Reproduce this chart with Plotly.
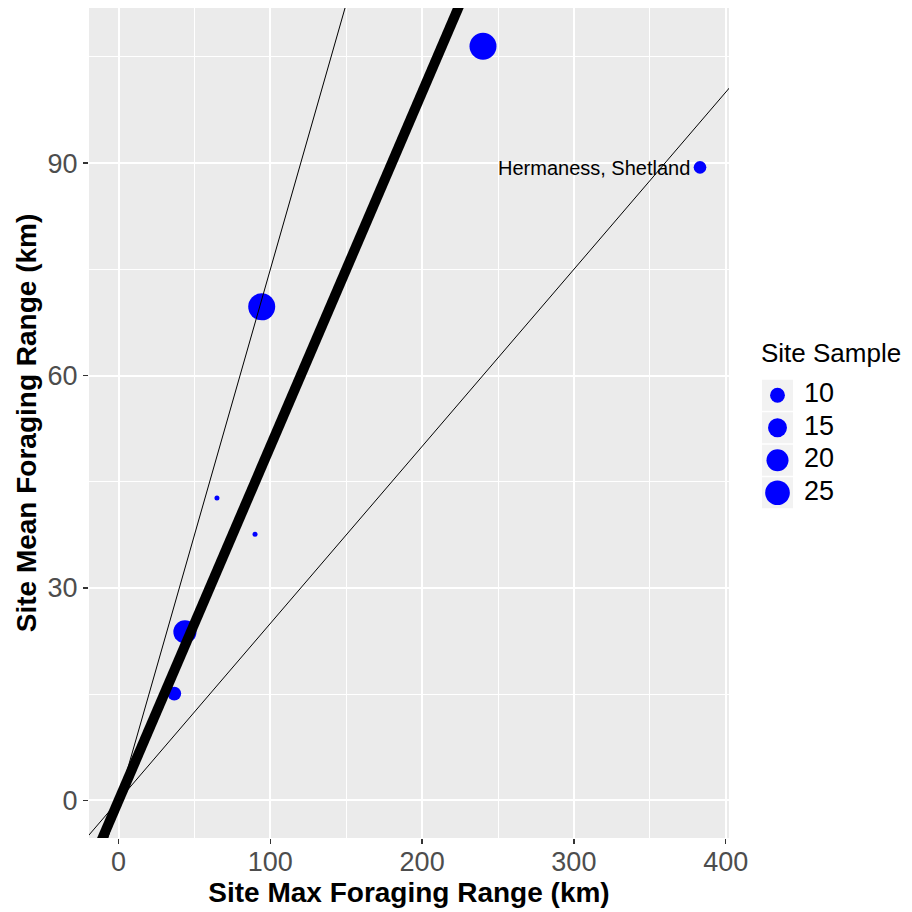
import numpy as np
import plotly.graph_objects as go

# ---- data ----
max_range = [240.1, 94.3, 383.1, 64.8, 89.9, 43.7, 36.7]
mean_range = [106.5, 69.7, 89.4, 42.7, 37.6, 23.8, 15.1]
site_sample = [30, 30, 8, 5, 5, 22, 9]
site_label = ["", "", "Hermaness, Shetland", "", "", "", ""]
ratio_slopes = [0.25, 0.5, 0.75]
ratio_widths = [1, 10, 1]
legend_values = [10, 15, 20, 25]
x_ticks = [0, 100, 200, 300, 400]
y_ticks = [0, 30, 60, 90]

FONT = "Liberation Sans, Arial, sans-serif"
BLUE = "#0000FF"

# size scale (area-like, like ggplot scale_size)
S_MIN, S_MAX = min(site_sample), max(site_sample)
D_MIN, D_MAX = 5.0, 27.0


def diam(v):
    v = np.asarray(v, dtype=float)
    return D_MIN + (D_MAX - D_MIN) * np.sqrt((v - S_MIN) / (S_MAX - S_MIN))


# layout geometry (pixels)
W = H = 912
ML, MT, MB = 89, 8, 74
PLOT_R = 729
LEG_L = 755
pw = W - ML
x_dom = [0, (PLOT_R - ML) / pw]
x2_dom = [(LEG_L - ML) / pw, 1]

XR = [-19.5, 402.2]
YR = [-5.3, 111.9]

fig = go.Figure()

# points
fig.add_trace(go.Scatter(
    x=max_range, y=mean_range, mode="markers",
    marker=dict(size=diam(site_sample), color=BLUE, opacity=1, line=dict(width=0)),
    showlegend=False, hoverinfo="skip", xaxis="x", yaxis="y"))

# reference ratio lines
xl = np.array([XR[0] - 20, XR[1] + 20])
for s, w in zip(ratio_slopes, ratio_widths):
    fig.add_trace(go.Scatter(
        x=xl, y=s * xl, mode="lines", line=dict(color="black", width=w),
        showlegend=False, hoverinfo="skip", xaxis="x", yaxis="y"))

# label
for xv, yv, lab in zip(max_range, mean_range, site_label):
    if lab:
        fig.add_annotation(x=xv, y=yv, xref="x", yref="y", text=lab,
                           showarrow=False, xanchor="right", yanchor="middle",
                           xshift=-8, yshift=-1,
                           font=dict(family=FONT, size=20, color="black"))

# ---- legend drawn on a hidden subplot (x2/y2 in pixel units) ----
key_top = 379
key_h = 32.5
key_cx = 777.5
key_cy = [key_top + key_h * (i + 0.5) for i in range(len(legend_values))]
fig.add_trace(go.Scatter(
    x=[key_cx] * len(legend_values), y=key_cy, mode="markers",
    marker=dict(symbol="square", size=31, color="#F2F2F2", opacity=1, line=dict(width=0)),
    showlegend=False, hoverinfo="skip", xaxis="x2", yaxis="y2"))
fig.add_trace(go.Scatter(
    x=[key_cx] * len(legend_values), y=key_cy, mode="markers",
    marker=dict(size=diam(legend_values), color=BLUE, opacity=1, line=dict(width=0)),
    showlegend=False, hoverinfo="skip", xaxis="x2", yaxis="y2"))
fig.add_trace(go.Scatter(
    x=[804] * len(legend_values), y=key_cy, mode="text",
    text=[str(v) for v in legend_values], textposition="middle right",
    textfont=dict(family=FONT, size=27, color="black"),
    showlegend=False, hoverinfo="skip", xaxis="x2", yaxis="y2"))
fig.add_annotation(x=759, y=353, xref="x2", yref="y2", text="Site Sample",
                   showarrow=False, xanchor="left", yanchor="middle",
                   font=dict(family=FONT, size=26, color="black"))

# panel background
fig.add_shape(type="rect", xref="x domain", yref="y domain", x0=0, x1=1, y0=0, y1=1,
              fillcolor="#EBEBEB", line=dict(width=0), layer="below")

minor_x = [(a + b) / 2 for a, b in zip(x_ticks[:-1], x_ticks[1:])]
minor_y = [(a + b) / 2 for a, b in zip(y_ticks[:-1], y_ticks[1:])]
minor_y.append(y_ticks[-1] + (y_ticks[1] - y_ticks[0]) / 2)

axis_common = dict(showline=False, zeroline=False, ticks="outside", ticklen=5,
                   tickwidth=1.5, tickcolor="#333333", showgrid=True,
                   gridcolor="white", gridwidth=2, automargin=False,
                   tickfont=dict(family=FONT, size=27, color="#4D4D4D"))

fig.update_layout(
    width=W, height=H, autosize=False,
    margin=dict(l=ML, r=0, t=MT, b=MB),
    paper_bgcolor="white", plot_bgcolor="rgba(0,0,0,0)",
    showlegend=False,
    xaxis=dict(domain=x_dom, range=XR, tickmode="array", tickvals=x_ticks,
               ticklabelstandoff=-5,
               minor=dict(tickmode="array", tickvals=minor_x, showgrid=True,
                          gridcolor="white", gridwidth=1, ticks=""),
               title=dict(text="<b>Site Max Foraging Range (km)</b>", standoff=2,
                          font=dict(family=FONT, size=28, color="black")),
               **axis_common),
    yaxis=dict(domain=[0, 1], range=YR, tickmode="array", tickvals=y_ticks,
               minor=dict(tickmode="array", tickvals=minor_y, showgrid=True,
                          gridcolor="white", gridwidth=1, ticks=""),
               title=dict(text="<b>Site Mean Foraging Range (km)</b>", standoff=2,
                          font=dict(family=FONT, size=28, color="black")),
               **axis_common),
    xaxis2=dict(domain=x2_dom, range=[LEG_L, W], visible=False, fixedrange=True),
    yaxis2=dict(domain=[0, 1], range=[H - MB, MT], visible=False, fixedrange=True,
                anchor="x2"),
)

fig.write_html(
    "out.html",
    config={"responsive": False, "displayModeBar": False, "staticPlot": True},
    post_script="document.body.style.margin='0';document.body.style.overflow='hidden';",
)
